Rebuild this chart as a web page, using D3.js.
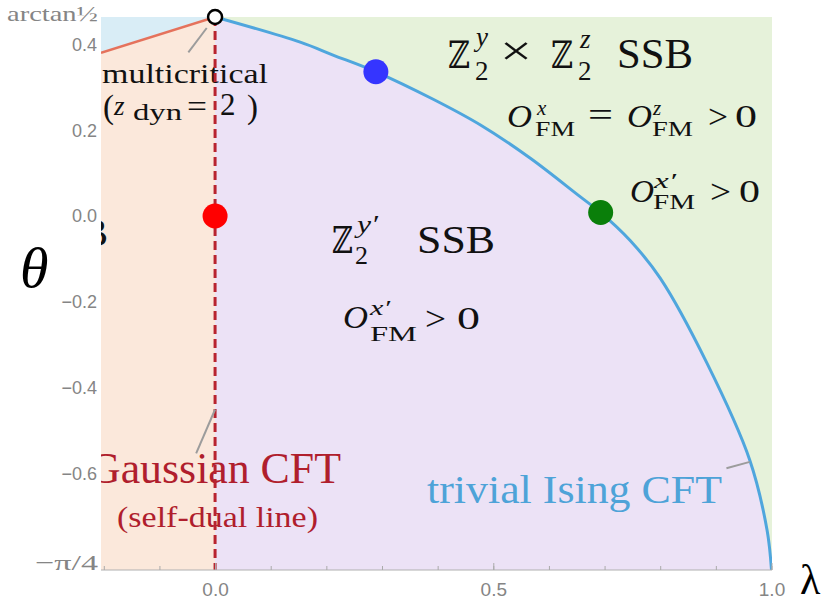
<!DOCTYPE html>
<html>
<head>
<meta charset="utf-8">
<script src="https://cdn.jsdelivr.net/npm/d3@7"></script>
<style>
	body { margin: 0; background: #fff; }
</style>
</head>
<body>
<div id="chart"></div>
<script>

// DATA
const lambdaMin = -0.205;
const lambdaMax = 1.0;
const thetaTop = Math.atan(0.5);      // labelled arctan½
const thetaBottom = -0.825;           // bottom of the plotted range, labelled −π/4

const lambdaMinorTicks = [-0.2, -0.1, 0.0, 0.1, 0.2, 0.3, 0.4, 0.5, 0.6, 0.7, 0.8, 0.9, 1.0];
const lambdaMajorTicks = [0.0, 0.5, 1.0];
const lambdaTickLabels = ["0.0", "0.5", "1.0"];
const thetaTicks = [0.4, 0.2, 0.0, -0.2, -0.4, -0.6];
const thetaTickLabels = ["0.4", "0.2", "0.0", "\u22120.2", "\u22120.4", "\u22120.6"];

// trivial Ising CFT boundary (blue)
const isingLambda = [0.000, 0.153, 0.212, 0.289, 0.392, 0.477, 0.566, 0.656, 0.693, 0.746, 0.800, 0.884, 0.961, 0.992, 1.000];
const isingTheta  = [thetaTop, 0.405, 0.375, 0.336, 0.272, 0.212, 0.135, 0.045, 0.008, -0.057, -0.145, -0.343, -0.569, -0.732, thetaBottom];

// left boundary (orange), above the Gaussian region
const orangeLambda = [lambdaMin, 0.0];
const orangeTheta  = [0.380, thetaTop];

// marked points
const dotLambda = [0.289, 0.0, 0.693];
const dotTheta  = [0.336, 0.0, 0.008];
const dotColor  = ["#3535ff", "#ff0000", "#0a7f0a"];

// leader lines [λ1, θ1, λ2, θ2]
const leaders = [
	[-0.048, 0.381, -0.015, 0.438],
	[-0.034, -0.553, 0.0, -0.451],
	[0.919, -0.588, 0.961, -0.573]
];


// SVG
const width = 829, height = 601;
const plot = { left: 101, right: 772, top: 17, bottom: 570 };
const SERIF = "Liberation Serif, Times New Roman, serif";
const SANS = "Liberation Sans, Arial, sans-serif";

const svg = d3.select("#chart")
	.append("svg")
	.attr("width", width)
	.attr("height", height);

const x = d3.scaleLinear().domain([lambdaMin, lambdaMax]).range([plot.left, 771.5]);
const y = d3.scaleLinear().domain([thetaBottom, thetaTop]).range([plot.bottom, plot.top]);

svg.append("clipPath").attr("id", "clip")
	.append("rect")
	.attr("x", plot.left).attr("y", plot.top)
	.attr("width", plot.right - plot.left).attr("height", plot.bottom - plot.top);

const g = svg.append("g").attr("clip-path", "url(#clip)");

// REGIONS
g.append("rect")
	.attr("x", plot.left).attr("y", plot.top)
	.attr("width", plot.right - plot.left).attr("height", plot.bottom - plot.top)
	.attr("fill", "#e6f2da");

const poly = pts => "M" + pts.map(p => [x(p[0]), y(p[1])].join(",")).join("L") + "Z";

g.append("path")
	.attr("d", poly([[lambdaMin, thetaTop], [0, thetaTop], [orangeLambda[0], orangeTheta[0]]]))
	.attr("fill", "#d9edf6");
g.append("path")
	.attr("d", poly([[lambdaMin, thetaBottom], [orangeLambda[0], orangeTheta[0]], [orangeLambda[1], orangeTheta[1]], [0, thetaBottom]]))
	.attr("fill", "#fbe8db");

const isingPts = isingLambda.map((l, i) => [l, isingTheta[i]]);
const line = d3.line().x(d => x(d[0])).y(d => y(d[1])).curve(d3.curveCatmullRom.alpha(0.5));

g.append("path")
	.attr("d", line(isingPts) + "L" + x(0) + "," + y(thetaBottom) + "Z")
	.attr("fill", "#ece2f6");

// TEXT helper
function pieces(list, color) {
	list.forEach(p => {
		const t = svg.append("text")
			.attr("x", p.x).attr("y", p.y)
			.attr("font-size", p.size)
			.attr("font-family", p.fam || SERIF)
			.attr("fill", color || "#111")
			.text(p.t);
		if (p.it) t.attr("font-style", "italic");
		if (p.len) t.attr("textLength", p.len).attr("lengthAdjust", "spacingAndGlyphs");
	});
}

const Z = "\u2124";
const ZF = "DejaVu Serif, DejaVu Sans, serif";
// Z2y x Z2z SSB
pieces([
	{ t: Z, x: 448, y: 68, size: 38, fam: ZF, len: 22 },
	{ t: "2", x: 475, y: 80, size: 27 },
	{ t: "y", x: 476, y: 46, size: 27, it: true },
	{ t: "\u00d7", x: 500, y: 65, size: 42, len: 32 },
	{ t: Z, x: 551, y: 68, size: 38, fam: ZF, len: 22 },
	{ t: "2", x: 578, y: 80, size: 27 },
	{ t: "z", x: 580, y: 48, size: 27, it: true },
	{ t: "SSB", x: 617, y: 68, size: 42, len: 76 }
]);
// O^x_FM = O^z_FM > 0
pieces([
	{ t: "O", x: 507, y: 127, size: 31, it: true, len: 25 },
	{ t: "x", x: 537, y: 115, size: 21, it: true },
	{ t: "FM", x: 535, y: 136, size: 22, len: 40 },
	{ t: "=", x: 588, y: 126, size: 34, len: 25 },
	{ t: "O", x: 627, y: 127, size: 31, it: true, len: 25 },
	{ t: "z", x: 653, y: 115, size: 21, it: true },
	{ t: "FM", x: 652, y: 136, size: 22, len: 41 },
	{ t: ">", x: 708, y: 128, size: 34, len: 20 },
	{ t: "0", x: 735, y: 127, size: 31, len: 22 }
]);
// O^x'_FM > 0 (right)
pieces([
	{ t: "O", x: 630, y: 202, size: 31, it: true, len: 24 },
	{ t: "x\u2032", x: 654, y: 188, size: 22, it: true, len: 22 },
	{ t: "FM", x: 653, y: 209, size: 22, len: 42 },
	{ t: ">", x: 710, y: 203, size: 34, len: 21 },
	{ t: "0", x: 739, y: 202, size: 31, len: 21 }
]);
// Z2y' SSB
pieces([
	{ t: Z, x: 332, y: 253, size: 37, fam: ZF, len: 21 },
	{ t: "2", x: 355, y: 264, size: 26 },
	{ t: "y\u2032", x: 357, y: 233, size: 25, it: true, len: 21 },
	{ t: "SSB", x: 417, y: 253, size: 41, len: 78 }
]);
// O^x'_FM > 0 (middle)
pieces([
	{ t: "O", x: 343, y: 328, size: 31, it: true, len: 25 },
	{ t: "x\u2032", x: 370, y: 315, size: 22, it: true, len: 20 },
	{ t: "FM", x: 370, y: 341, size: 22, len: 47 },
	{ t: ">", x: 425, y: 330, size: 34, len: 21 },
	{ t: "0", x: 457, y: 329, size: 31, len: 23 }
]);
// multicritical (z_dyn = 2)
pieces([
	{ t: "multicritical", x: 102, y: 83, size: 27, len: 166 },
	{ t: "(", x: 103, y: 118, size: 33 },
	{ t: "z", x: 114, y: 115, size: 27, it: true },
	{ t: "dyn", x: 133, y: 120, size: 24, len: 49 },
	{ t: "=", x: 187, y: 117, size: 32, len: 20 },
	{ t: "2", x: 220, y: 115, size: 31 },
	{ t: ")", x: 247, y: 118, size: 33 }
]);
pieces([
	{ t: "trivial Ising CFT", x: 427, y: 503, size: 40, len: 295 }
], "#4ea3d8");

// texts clipped by the plot frame
const gc = g.append("g");
gc.append("text").attr("x", 89).attr("y", 483).attr("font-size", 44).attr("font-family", SERIF)
	.attr("fill", "#b01e2d").attr("textLength", 252).attr("lengthAdjust", "spacingAndGlyphs")
	.text("Gaussian CFT");
gc.append("text").attr("x", 117).attr("y", 527).attr("font-size", 30).attr("font-family", SERIF)
	.attr("fill", "#b01e2d").attr("textLength", 201).attr("lengthAdjust", "spacingAndGlyphs")
	.text("(self-dual line)");
gc.append("text").attr("x", 108).attr("y", 246).attr("font-size", 41).attr("font-family", SERIF)
	.attr("text-anchor", "end").attr("fill", "#111")
	.text("B");

// BOUNDARIES
g.append("path")
	.attr("d", d3.line().x(d => x(d[0])).y(d => y(d[1]))(orangeLambda.map((l, i) => [l, orangeTheta[i]])))
	.attr("fill", "none").attr("stroke", "#e5725c").attr("stroke-width", 2.5);
g.append("path")
	.attr("d", line(isingPts))
	.attr("fill", "none").attr("stroke", "#4fa6dd").attr("stroke-width", 3);
svg.append("line")
	.attr("x1", x(0)).attr("x2", x(0))
	.attr("y1", y(thetaTop)).attr("y2", y(thetaBottom))
	.attr("stroke", "#b8232f").attr("stroke-width", 3)
	.attr("stroke-dasharray", "9,5");

// leader lines
svg.selectAll(".leader")
	.data(leaders)
	.enter()
	.append("line")
		.attr("x1", d => x(d[0])).attr("y1", d => y(d[1]))
		.attr("x2", d => x(d[2])).attr("y2", d => y(d[3]))
		.attr("stroke", "#9c9c9c").attr("stroke-width", 2);

// POINTS
svg.selectAll(".dot")
	.data(dotLambda)
	.enter()
	.append("circle")
		.attr("cx", d => x(d))
		.attr("cy", (d, i) => y(dotTheta[i]))
		.attr("r", 12.5)
		.attr("fill", (d, i) => dotColor[i]);
svg.append("circle")
	.attr("cx", x(0)).attr("cy", y(thetaTop))
	.attr("r", 7)
	.attr("fill", "#fff").attr("stroke", "#000").attr("stroke-width", 2.5);

// AXES
const minorAxis = d3.axisBottom(x).tickValues(lambdaMinorTicks).tickSizeInner(-4).tickSizeOuter(0).tickFormat("");
const ax1 = svg.append("g").attr("transform", `translate(0,${plot.bottom})`).call(minorAxis);
ax1.select(".domain").attr("stroke", "#b0b0b0").attr("d", `M${plot.left},0H${plot.right}`);
ax1.selectAll(".tick line").attr("stroke", "#aaa");

const majorAxis = d3.axisBottom(x).tickValues(lambdaMajorTicks).tickSizeInner(-7).tickSizeOuter(0)
	.tickPadding(13).tickFormat((d, i) => lambdaTickLabels[i]);
const ax2 = svg.append("g").attr("transform", `translate(0,${plot.bottom})`).call(majorAxis);
ax2.select(".domain").remove();
ax2.selectAll(".tick line").attr("stroke", "#aaa");
ax2.selectAll(".tick text")
	.attr("fill", "#858585").attr("font-size", 19)
	.attr("font-family", SANS);

svg.selectAll(".ylab")
	.data(thetaTicks)
	.enter()
	.append("text")
		.attr("x", 97)
		.attr("y", d => y(d))
		.attr("dy", "0.36em")
		.attr("text-anchor", "end")
		.attr("font-size", 18)
		.attr("font-family", SANS)
		.attr("fill", "#858585")
		.text((d, i) => thetaTickLabels[i]);

svg.append("text").attr("x", 7).attr("y", 21).attr("font-size", 21).attr("font-family", SERIF)
	.attr("fill", "#858585").attr("textLength", 91).attr("lengthAdjust", "spacingAndGlyphs")
	.text("arctan\u00bd");
svg.append("text").attr("x", 35).attr("y", 570).attr("font-size", 22).attr("font-family", SERIF)
	.attr("fill", "#858585").attr("textLength", 63).attr("lengthAdjust", "spacingAndGlyphs")
	.text("\u2212\u03c0/4");

// axis titles
svg.append("text").attr("x", 20).attr("y", 287).attr("font-size", 58).attr("font-family", SERIF)
	.attr("font-style", "italic").attr("fill", "#000").text("\u03b8");
svg.append("text").attr("x", 800).attr("y", 594).attr("font-size", 42).attr("font-family", SERIF)
	.attr("fill", "#000").text("\u03bb");

</script>
</body>
</html>
